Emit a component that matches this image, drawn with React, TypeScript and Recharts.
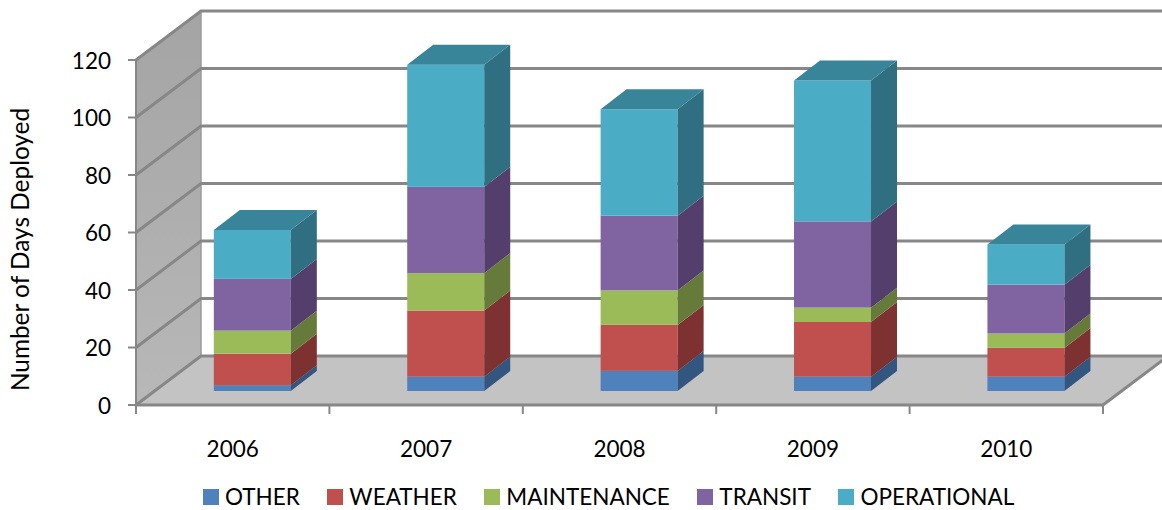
import { BarChart, Bar, XAxis, YAxis, Legend, ReferenceArea, ReferenceLine } from "recharts"

const YEARS = ["2006", "2007", "2008", "2009", "2010"]
const OTHER = [2, 5, 7, 5, 5]
const WEATHER = [11, 23, 16, 19, 10]
const MAINTENANCE = [8, 13, 12, 5, 5]
const TRANSIT = [18, 30, 26, 30, 17]
const OPERATIONAL = [17, 42.5, 37, 49, 14]
const Y_TICKS = [0, 20, 40, 60, 80, 100, 120]

const SERIES = [
  { key: "OTHER", front: "#4f81bd", side: "#335680" },
  { key: "WEATHER", front: "#c0504d", side: "#7d3231" },
  { key: "MAINTENANCE", front: "#9bbb59", side: "#667b3a" },
  { key: "TRANSIT", front: "#8064a2", side: "#543f6c" },
  { key: "OPERATIONAL", front: "#4bacc6", side: "#306f81" },
]

const chartData = YEARS.map((year, i) => ({
  year,
  OTHER: OTHER[i],
  WEATHER: WEATHER[i],
  MAINTENANCE: MAINTENANCE[i],
  TRANSIT: TRANSIT[i],
  OPERATIONAL: OPERATIONAL[i],
}))

const WIDTH = 1162
const HEIGHT = 510
const FONT = "Lato, sans-serif"
const TICK_SIZE = 22.5
const PLOT_LEFT = 136
const PLOT_WIDTH = 967
const BAND = PLOT_WIDTH / YEARS.length
// box depth of the whole plot, and of one bar
const WALL_DX = 65
const WALL_DY = -49
const BAR_SHIFT_X = 19.8
const BAR_SHIFT_Y = -14
const BAR_DX = 26
const BAR_DY = -20
const LINE = "#878787"

function Box(props: any) {
  const { width, height, front, side, isTop } = props
  const x = props.x + BAR_SHIFT_X
  const y = props.y + BAR_SHIFT_Y
  const r = x + width
  const b = y + height
  return (
    <g>
      <rect x={x} y={y} width={width} height={height} fill={front} />
      <polygon
        points={`${r},${y} ${r + BAR_DX},${y + BAR_DY} ${r + BAR_DX},${b + BAR_DY} ${r},${b}`}
        fill={side}
      />
      {isTop && (
        <polygon
          points={`${x},${y} ${x + BAR_DX},${y + BAR_DY} ${r + BAR_DX},${y + BAR_DY} ${r},${y}`}
          fill="#388499"
        />
      )}
    </g>
  )
}

function Walls(props: any) {
  const { x, y, width, height } = props
  const b = y + height
  const r = x + width
  return (
    <g>
      <defs>
        <linearGradient id="wall" x1="0" y1="0" x2="0" y2="1">
          <stop offset="0" stopColor="#a4a4a4" />
          <stop offset="1" stopColor="#b8b8b8" />
        </linearGradient>
      </defs>
      <polygon
        points={`${x},${y} ${x + WALL_DX},${y + WALL_DY} ${x + WALL_DX},${b + WALL_DY} ${x},${b}`}
        fill="url(#wall)"
        stroke="#9a9a9a"
        strokeWidth={1.5}
      />
      <polygon
        points={`${x},${b} ${x + WALL_DX},${b + WALL_DY} ${r + WALL_DX},${b + WALL_DY} ${r},${b}`}
        fill="#c3c3c3"
      />
    </g>
  )
}

function GridLine(props: any) {
  const { x1, y1 } = props
  const backX = x1 + WALL_DX
  const backY = y1 + WALL_DY
  return (
    <polyline
      points={`${x1},${y1} ${backX},${backY} ${WIDTH + 10},${backY}`}
      fill="none"
      stroke={LINE}
      strokeWidth={3}
    />
  )
}

function YearTick(props: any) {
  const { x, y, payload, index } = props
  const left = x - BAND / 2
  return (
    <g>
      <line x1={left} y1={y - 8} x2={left} y2={y + 1} stroke={LINE} strokeWidth={2} />
      {index === YEARS.length - 1 && (
        <g>
          <line x1={left + BAND} y1={y - 8} x2={left + BAND} y2={y + 1} stroke={LINE} strokeWidth={2} />
          <line
            x1={left + BAND}
            y1={y - 8}
            x2={left + BAND + WALL_DX}
            y2={y - 8 + WALL_DY}
            stroke={LINE}
            strokeWidth={3}
          />
        </g>
      )}
      <text x={x} y={y + 44} textAnchor="middle" fontFamily={FONT} fontSize={TICK_SIZE} fill="#000">
        {payload.value}
      </text>
    </g>
  )
}

function LegendRow(props: any) {
  const items = props.payload || []
  return (
    <div style={{ display: "flex", gap: 27.5, fontFamily: FONT, fontSize: 22.5, lineHeight: "28px", color: "#000" }}>
      {items.map((item: any) => (
        <div key={item.value} style={{ display: "flex", alignItems: "center", gap: 6 }}>
          <span style={{ width: 16, height: 16, background: item.color, display: "block" }} />
          <span>{item.value}</span>
        </div>
      ))}
    </div>
  )
}

export default function App() {
  return (
    <div style={{ position: "absolute", left: 0, top: 0, width: WIDTH, height: HEIGHT, background: "#fff" }}>
      <BarChart
        width={WIDTH}
        height={HEIGHT}
        data={chartData}
        margin={{ top: 60, right: WIDTH - PLOT_LEFT - PLOT_WIDTH, bottom: 45, left: PLOT_LEFT - 60 }}
        barCategoryGap="30%"
      >
        <ReferenceArea y1={0} y2={120} shape={<Walls />} ifOverflow="visible" zIndex={-200} />
        {Y_TICKS.map((t) => (
          <ReferenceLine key={t} y={t} shape={<GridLine />} ifOverflow="visible" zIndex={-100} />
        ))}
        <XAxis
          dataKey="year"
          tick={<YearTick />}
          tickLine={false}
          axisLine={{ stroke: LINE, strokeWidth: 3 }}
          height={60}
          interval={0}
        />
        <YAxis
          width={60}
          domain={[0, 120]}
          ticks={Y_TICKS}
          tickSize={8}
          tickMargin={17}
          tickLine={{ stroke: LINE, strokeWidth: 2 }}
          axisLine={{ stroke: LINE, strokeWidth: 2 }}
          tick={{ fontFamily: FONT, fontSize: TICK_SIZE, fill: "#000", dy: 1 }}
          label={{
            value: "Number of Days Deployed",
            angle: -90,
            position: "center",
            dx: -86,
            dy: 17,
            style: { fontFamily: FONT, fontSize: 24.4, fill: "#000" },
          }}
        />
        {SERIES.map((s, i) => (
          <Bar
            key={s.key}
            dataKey={s.key}
            stackId="days"
            fill={s.front}
            isAnimationActive={false}
            shape={<Box front={s.front} side={s.side} isTop={i === SERIES.length - 1} />}
          />
        ))}
        <Legend
          layout="horizontal"
          verticalAlign="middle"
          itemSorter={null}
          content={<LegendRow />}
          wrapperStyle={{ left: 203, top: 483, width: "auto" }}
        />
      </BarChart>
    </div>
  )
}
